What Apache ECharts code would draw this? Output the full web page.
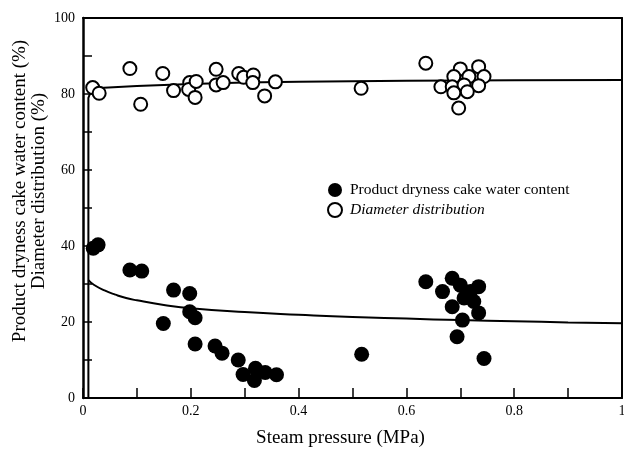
<!DOCTYPE html>
<html>
<head>
<meta charset="utf-8">
<script src="https://cdn.jsdelivr.net/npm/echarts@6/dist/echarts.min.js"></script>
<style>
  html, body { margin: 0; padding: 0; background: #fff; }
  #chart { width: 624px; height: 450px; }
</style>
</head>
<body>
<div id="chart"></div>
<script>
// ── DATA ───────────────────────────────────────────
// product dryness cake water content (%), filled circles
const waterPts = [
  [0.019, 39.4], [0.028, 40.3], [0.087, 33.7], [0.109, 33.4], [0.168, 28.4],
  [0.198, 27.5], [0.149, 19.6], [0.198, 22.7], [0.208, 21.1], [0.208, 14.2],
  [0.245, 13.7], [0.258, 11.8], [0.288, 10.0], [0.297, 6.2], [0.32, 7.8],
  [0.318, 4.6], [0.338, 6.7], [0.359, 6.1], [0.517, 11.5],
  [0.636, 30.6], [0.667, 28.0], [0.685, 31.5], [0.70, 29.7], [0.719, 28.0],
  [0.734, 29.3], [0.707, 26.3], [0.725, 25.4], [0.685, 24.0], [0.734, 22.4],
  [0.704, 20.5], [0.694, 16.1], [0.744, 10.4]
];
// diameter distribution (%), open circles
const diamPts = [
  [0.018, 81.7], [0.030, 80.2], [0.087, 86.7], [0.107, 77.3], [0.148, 85.4],
  [0.168, 80.9], [0.198, 83.0], [0.196, 81.2], [0.21, 83.3], [0.208, 79.1],
  [0.247, 86.5], [0.247, 82.4], [0.26, 83.0], [0.289, 85.4], [0.298, 84.4],
  [0.316, 85.0], [0.315, 83.0], [0.337, 79.5], [0.357, 83.2], [0.516, 81.5],
  [0.636, 88.1], [0.70, 86.6], [0.734, 87.2], [0.688, 84.6], [0.716, 84.6],
  [0.744, 84.6], [0.664, 81.9], [0.685, 81.9], [0.707, 82.4], [0.734, 82.2],
  [0.688, 80.3], [0.713, 80.6], [0.697, 76.3]
];
// fitted curves
const waterFit = [
  [0.01, 31.0], [0.02, 29.8], [0.04, 28.3], [0.06, 27.2], [0.08, 26.3],
  [0.1, 25.7], [0.15, 24.5], [0.2, 23.6], [0.3, 22.6], [0.4, 21.9],
  [0.5, 21.3], [0.6, 20.9], [0.7, 20.5], [0.8, 20.2], [0.9, 19.9], [1.0, 19.7]
];
const diamFit = [
  [0.01, 0], [0.01, 79], [0.015, 80.8], [0.03, 81.6], [0.1, 82.1],
  [0.2, 82.6], [0.3, 83.0], [0.4, 83.2], [0.6, 83.5], [0.8, 83.6], [1.0, 83.7]
];
const xLabels = ['0', '0.2', '0.4', '0.6', '0.8', '1'];
const yLabels = ['0', '20', '40', '60', '80', '100'];

// ── CHART ──────────────────────────────────────────
const FONT = '"Liberation Serif", "Times New Roman", serif';
const chart = echarts.init(document.getElementById('chart'), null, { renderer: 'canvas' });

// top / right frame lines
const frameAxis = {
  axisLine: { show: true, onZero: false, lineStyle: { color: '#000', width: 2 } },
  axisTick: { show: false },
  axisLabel: { show: false },
  splitLine: { show: false },
};

chart.setOption({
  backgroundColor: '#fff',
  animation: false,
  textStyle: { fontFamily: FONT },
  grid: { left: 83, right: 2, top: 18, bottom: 52, outerBoundsMode: 'none', containLabel: false },
  legend: {
    left: 322, top: 177, orient: 'vertical', itemGap: 4,
    itemWidth: 20, itemHeight: 14,
    textStyle: { fontFamily: FONT, fontSize: 15.5, color: '#000' },
    data: [
      { name: 'Product dryness cake water content', icon: 'circle' },
      { name: 'Diameter distribution', icon: 'circle', textStyle: { fontStyle: 'italic' } },
    ],
  },
  xAxis: [
    {
      type: 'value', min: 0, max: 1, interval: 0.1,
      name: 'Steam pressure (MPa)', nameLocation: 'middle', nameGap: 31,
      nameMoveOverlap: false,
      nameTextStyle: { fontFamily: FONT, fontSize: 19, color: '#000', padding: [0, 24, 0, 0] },
      axisLine: { onZero: false, lineStyle: { color: '#000', width: 2 } },
      axisTick: { inside: true, length: 10, lineStyle: { color: '#000', width: 1.5 } },
      axisLabel: {
        color: '#000', fontFamily: FONT, fontSize: 14, margin: 6,
        formatter: v => {
          const i = Math.round(v * 10);
          return i % 2 === 0 ? xLabels[i / 2] : '';
        },
      },
      splitLine: { show: false },
    },
    Object.assign({ type: 'value', min: 0, max: 1, position: 'top' }, frameAxis),
  ],
  yAxis: [
    {
      type: 'value', min: 0, max: 100, interval: 10,
      name: 'Product dryness cake water content (%)\nDiameter distribution (%)',
      nameLocation: 'middle', nameGap: 34, nameMoveOverlap: false,
      nameTextStyle: {
        fontFamily: FONT, fontSize: 19, color: '#000', lineHeight: 19,
        padding: [0, 0, 0, 34],
      },
      axisLine: { onZero: false, lineStyle: { color: '#000', width: 2.5 } },
      axisTick: { inside: true, length: 9, lineStyle: { color: '#000', width: 1.5 } },
      axisLabel: {
        color: '#000', fontFamily: FONT, fontSize: 14, margin: 8,
        formatter: v => (Math.round(v) % 20 === 0 ? yLabels[Math.round(v) / 20] : ''),
      },
      splitLine: { show: false },
    },
    Object.assign({ type: 'value', min: 0, max: 100, position: 'right' }, frameAxis),
  ],
  series: [
    {
      name: 'Water fit', type: 'line', data: waterFit, smooth: true, symbol: 'none',
      lineStyle: { color: '#000', width: 2 }, z: 1,
    },
    {
      name: 'Diameter fit', type: 'line', data: diamFit, symbol: 'none',
      lineStyle: { color: '#000', width: 2 }, z: 1,
    },
    {
      name: 'Product dryness cake water content', type: 'scatter', data: waterPts,
      symbol: 'circle', symbolSize: 15,
      itemStyle: { color: '#000', opacity: 1 }, z: 3,
    },
    {
      name: 'Diameter distribution', type: 'scatter', data: diamPts,
      symbol: 'circle', symbolSize: 13,
      itemStyle: { color: '#fff', borderColor: '#000', borderWidth: 2, opacity: 1 }, z: 3,
    },
  ],
});
</script>
</body>
</html>
